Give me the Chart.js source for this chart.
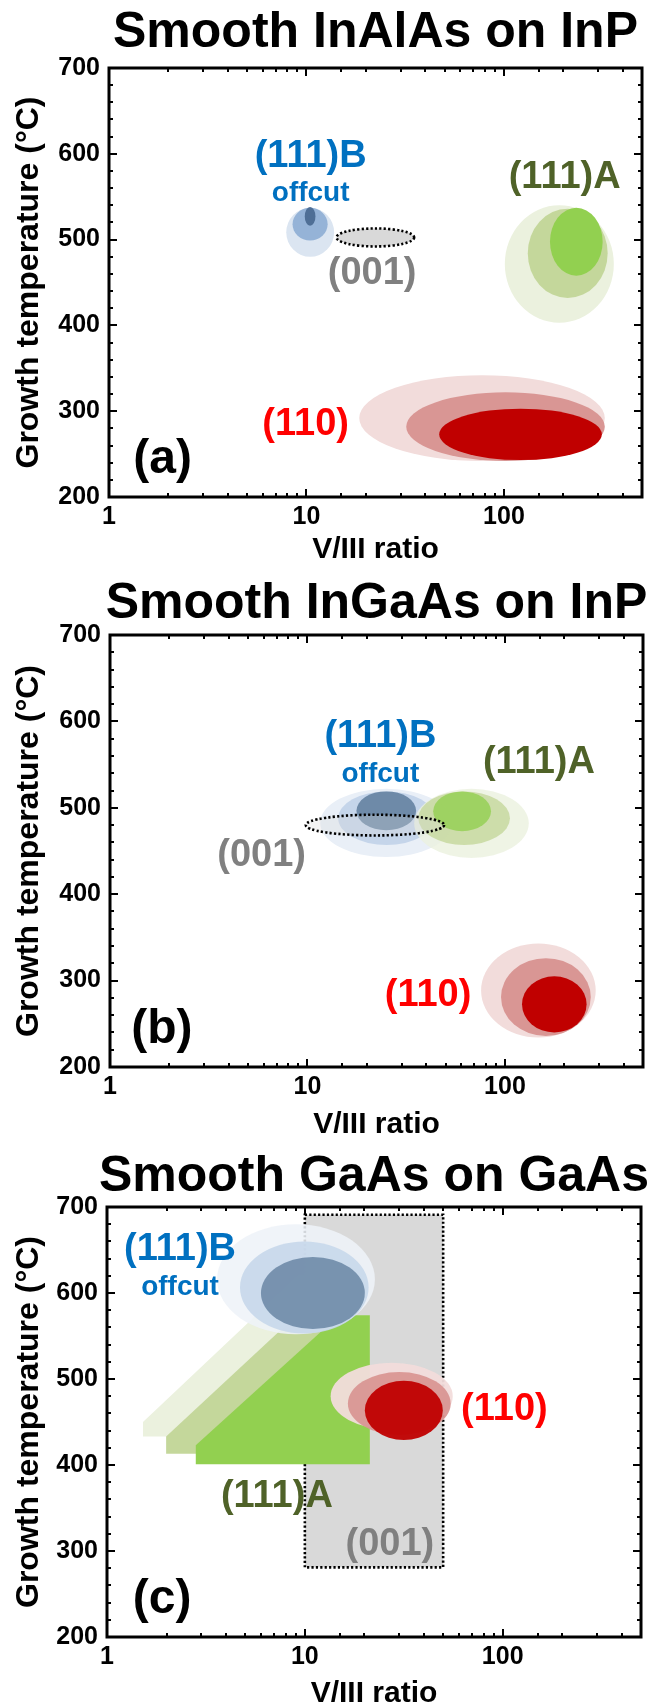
<!DOCTYPE html>
<html>
<head>
<meta charset="utf-8">
<script src="https://cdn.jsdelivr.net/npm/chart.js@4.4.1/dist/chart.umd.min.js"></script>
<style>
  html, body { margin: 0; padding: 0; background: #fff; }
  .panel { position: absolute; left: 0; width: 655px; }
  canvas { display: block; }
</style>
</head>
<body>
<div class="panel" style="top:0px"><canvas id="chartA" width="655" height="576"></canvas></div>
<div class="panel" style="top:576px"><canvas id="chartB" width="655" height="564"></canvas></div>
<div class="panel" style="top:1140px"><canvas id="chartC" width="655" height="565"></canvas></div>
<script>
// axis ticks
const xTickLabels = [1, 10, 100];
const yTickLabels = [200, 300, 400, 500, 600, 700];

// (a) InAlAs on InP : bounding boxes of the regions [V/III min, max], [T min, max]
const aB_x = [[7.9, 13.8], [8.5, 12.8], [9.8, 11.1]];
const aB_t = [[480, 537], [499, 537], [516, 538]];
const aA_x = [[101, 360], [132, 335], [171, 316]];
const aA_t = [[403, 540], [432, 536], [458, 537]];
const a110_x = [[18.5, 324], [32, 324], [47, 313]];
const a110_t = [[242, 342], [242, 322], [243, 303]];
const a001_x = [14.2, 35.1];
const a001_t = [492, 513];

// (b) InGaAs on InP
const bB_x = [[11.6, 54], [14.3, 44.3], [17.7, 35.5]];
const bB_t = [[443, 522], [457, 519], [474, 519]];
const bA_x = [[34.7, 132], [36.4, 106], [43.3, 85]];
const bA_t = [[442, 522], [457, 519], [473, 519]];
const b110_x = [[75.7, 288], [95.5, 272], [122, 259]];
const b110_t = [[234, 343], [236, 326], [240, 305]];
const b001_x = [9.8, 49.2];
const b001_t = [468, 492];

// (c) GaAs on GaAs
const cB_x = [[3.6, 22.6], [4.7, 21.0], [6.0, 20.1]];
const cB_t = [[552, 680], [553, 660], [558, 642]];
const c110_x = [[13.5, 55.9], [16.5, 54.6], [20.1, 49.8]];
const c110_t = [[441, 519], [435, 508], [429, 498]];
const c001_x = [10, 50];
const c001_t = [281, 691];
// (111)A stair shapes, outline points
const cA_x = [[1.52, 1.52, 9.22, 13.5, 13.5], [1.99, 1.99, 12.0, 17.7, 17.7], [2.81, 2.81, 14.9, 21.3, 21.3]];
const cA_t = [[433, 450, 620, 620, 433], [413, 433, 600, 600, 413], [401, 423, 574, 574, 401]];

const FONT = "'Liberation Sans', Arial, sans-serif";
Chart.defaults.font.family = FONT;

const BLUE_TXT = '#0070c0', OLIVE = '#4f6228', GREY = '#808080', RED = '#ff0000';
const greens = ['#ebf1de', '#c4d79b', '#92d050'];
const reds = ['#f2dcdb', '#d99694', '#c00000'];

function ellipsePath(ctx, xs, ys, xr, tr) {
  const x0 = xs.getPixelForValue(xr[0]), x1 = xs.getPixelForValue(xr[1]);
  const y0 = ys.getPixelForValue(tr[0]), y1 = ys.getPixelForValue(tr[1]);
  ctx.beginPath();
  ctx.ellipse((x0 + x1) / 2, (y0 + y1) / 2, Math.abs(x1 - x0) / 2, Math.abs(y1 - y0) / 2, 0, 0, Math.PI * 2);
}

function layers(ctx, xs, ys, xl, tl, cols, alpha) {
  ctx.save();
  ctx.globalAlpha = alpha;
  for (let i = 0; i < xl.length; i++) {
    ellipsePath(ctx, xs, ys, xl[i], tl[i]);
    ctx.fillStyle = cols[i];
    ctx.fill();
  }
  ctx.restore();
}

function dotted(ctx, fill) {
  ctx.fillStyle = fill;
  ctx.fill();
  ctx.setLineDash([2.2, 2.2]);
  ctx.lineWidth = 2.6;
  ctx.strokeStyle = '#000';
  ctx.stroke();
  ctx.setLineDash([]);
}

function drawFrame(chart) {
  const ctx = chart.ctx, a = chart.chartArea, xs = chart.scales.x, ys = chart.scales.y;
  ctx.save();
  ctx.strokeStyle = '#000';
  ctx.lineWidth = 2;
  xs.ticks.forEach(t => {
    const lg = Math.log10(t.value);
    const len = Math.abs(lg - Math.round(lg)) < 1e-6 ? 8 : 4;
    const px = Math.round(xs.getPixelForValue(t.value));
    ctx.beginPath();
    ctx.moveTo(px, a.bottom); ctx.lineTo(px, a.bottom - len);
    ctx.moveTo(px, a.top); ctx.lineTo(px, a.top + len);
    ctx.stroke();
  });
  ys.ticks.forEach(t => {
    const len = t.value % 100 === 0 ? 8 : 4;
    const py = Math.round(ys.getPixelForValue(t.value));
    ctx.beginPath();
    ctx.moveTo(a.left, py); ctx.lineTo(a.left + len, py);
    ctx.moveTo(a.right, py); ctx.lineTo(a.right - len, py);
    ctx.stroke();
  });
  ctx.lineWidth = 3;
  ctx.strokeRect(a.left, a.top, a.right - a.left, a.bottom - a.top);
  ctx.restore();
}

function makePanel(id, p) {
  const h = document.getElementById(id).height;
  const area = p.area;
  const deco = {
    id: 'deco' + id,
    beforeDatasetsDraw(chart) {
      const ctx = chart.ctx;
      ctx.save();
      p.draw(ctx, chart.scales.x, chart.scales.y);
      ctx.restore();
    },
    afterDraw(chart) {
      const ctx = chart.ctx, a = chart.chartArea, xs = chart.scales.x, ys = chart.scales.y;
      drawFrame(chart);
      ctx.save();
      ctx.fillStyle = '#000';
      ctx.textAlign = 'center';
      ctx.textBaseline = 'alphabetic';
      ctx.font = 'bold 50px ' + FONT;
      ctx.fillText(p.title, (a.left + a.right) / 2, p.titleY);
      ctx.textBaseline = 'middle';
      p.labels.forEach(l => {
        ctx.font = 'bold ' + l[4] + 'px ' + FONT;
        ctx.fillStyle = l[3];
        ctx.fillText(l[0], xs.getPixelForValue(l[1]), ys.getPixelForValue(l[2]));
      });
      ctx.restore();
    }
  };
  return new Chart(document.getElementById(id), {
    type: 'scatter',
    data: { datasets: [] },
    options: {
      responsive: false,
      animation: false,
      layout: { padding: { top: area.top, right: 655 - area.right, left: 0, bottom: 0 } },
      plugins: { legend: { display: false }, tooltip: { enabled: false }, title: { display: false } },
      scales: {
        x: {
          type: 'logarithmic', position: 'bottom', min: 1, max: 500,
          border: { display: false },
          grid: { display: false, drawTicks: false },
          ticks: {
            autoSkip: false, maxRotation: 0, padding: 8, color: '#000',
            font: { size: 25, weight: 'bold', lineHeight: 1 },
            callback: v => xTickLabels.includes(v) ? String(v) : ''
          },
          title: {
            display: true, text: 'V/III ratio', color: '#000',
            font: { size: 30, weight: 'bold', lineHeight: 1 },
            padding: { top: 0, bottom: p.xTitlePad }
          },
          afterFit: s => { s.height = h - area.bottom; }
        },
        y: {
          type: 'linear', position: 'left', min: 200, max: 700,
          border: { display: false },
          grid: { display: false, drawTicks: false },
          ticks: {
            stepSize: 20, autoSkip: false, padding: 9, color: '#000',
            font: { size: 25, weight: 'bold', lineHeight: 1 },
            callback: v => yTickLabels.includes(v) ? String(v) : ''
          },
          title: {
            display: true, text: 'Growth temperature (°C)', color: '#000',
            font: { size: 32, weight: 'bold', lineHeight: 1 },
            padding: { top: 13, bottom: 0 }
          },
          afterFit: s => { s.width = area.left; }
        }
      }
    },
    plugins: [deco]
  });
}

// (a)
makePanel('chartA', {
  area: { top: 68, bottom: 497, left: 109, right: 642 },
  title: 'Smooth InAlAs on InP', titleY: 47, xTitlePad: 11,
  draw(ctx, xs, ys) {
    layers(ctx, xs, ys, aB_x, aB_t, ['#dbe5f1', '#95b3d7', '#4f6f96'], 1);
    layers(ctx, xs, ys, aA_x, aA_t, greens, 1);
    layers(ctx, xs, ys, a110_x, a110_t, reds, 1);
    ellipsePath(ctx, xs, ys, a001_x, a001_t);
    dotted(ctx, '#d9d9d9');
  },
  labels: [
    ['(111)B', 10.5, 597, BLUE_TXT, 38],
    ['offcut', 10.5, 554, BLUE_TXT, 28],
    ['(001)', 21.5, 461, GREY, 38],
    ['(111)A', 203, 572, OLIVE, 38],
    ['(110)', 9.9, 285, RED, 38],
    ['(a)', 1.87, 243, '#000', 48]
  ]
});

// (b)
makePanel('chartB', {
  area: { top: 59, bottom: 491, left: 110, right: 643 },
  title: 'Smooth InGaAs on InP', titleY: 42, xTitlePad: 0,
  draw(ctx, xs, ys) {
    layers(ctx, xs, ys, bB_x, bB_t, ['#e9eff7', '#c5d5ea', '#6e8aa8'], 1);
    layers(ctx, xs, ys, bA_x, bA_t, greens, 0.8);
    layers(ctx, xs, ys, b110_x, b110_t, reds, 1);
    ellipsePath(ctx, xs, ys, b001_x, b001_t);
    dotted(ctx, 'rgba(217,217,217,0.3)');
  },
  labels: [
    ['(111)B', 23.4, 582, BLUE_TXT, 38],
    ['offcut', 23.4, 539, BLUE_TXT, 28],
    ['(111)A', 148.5, 552, OLIVE, 38],
    ['(001)', 5.86, 445, GREY, 38],
    ['(110)', 40.8, 283, RED, 38],
    ['(b)', 1.83, 243, '#000', 48]
  ]
});

// (c)
makePanel('chartC', {
  area: { top: 67, bottom: 497, left: 107, right: 641 },
  title: 'Smooth GaAs on GaAs', titleY: 51, xTitlePad: -4,
  draw(ctx, xs, ys) {
    const x0 = xs.getPixelForValue(c001_x[0]), x1 = xs.getPixelForValue(c001_x[1]);
    const y0 = ys.getPixelForValue(c001_t[0]), y1 = ys.getPixelForValue(c001_t[1]);
    ctx.beginPath();
    ctx.rect(x0, y1, x1 - x0, y0 - y1);
    dotted(ctx, '#d9d9d9');
    for (let i = 0; i < cA_x.length; i++) {
      ctx.beginPath();
      cA_x[i].forEach((v, j) => {
        const px = xs.getPixelForValue(v), py = ys.getPixelForValue(cA_t[i][j]);
        if (j === 0) ctx.moveTo(px, py); else ctx.lineTo(px, py);
      });
      ctx.closePath();
      ctx.fillStyle = greens[i];
      ctx.fill();
    }
    layers(ctx, xs, ys, cB_x, cB_t, ['#eef2f8', '#c6d7ea', '#6c89a6'], 0.88);
    layers(ctx, xs, ys, c110_x, c110_t, reds, 0.95);
  },
  labels: [
    ['(111)B', 2.34, 650, BLUE_TXT, 38],
    ['offcut', 2.34, 607, BLUE_TXT, 28],
    ['(110)', 102, 464, RED, 38],
    ['(111)A', 7.22, 363, OLIVE, 38],
    ['(001)', 26.9, 308, GREY, 38],
    ['(c)', 1.9, 243, '#000', 48]
  ]
});
</script>
</body>
</html>
